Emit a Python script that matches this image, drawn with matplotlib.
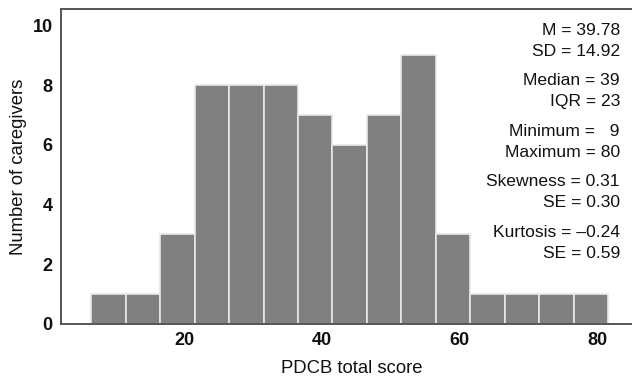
import matplotlib.pyplot as plt
import numpy as np

plt.rcParams["font.family"] = ["Liberation Sans", "DejaVu Sans"]

# histogram of PDCB total score, bin width 5
bin_edges = [6.5, 11.5, 16.5, 21.5, 26.5, 31.5, 36.5, 41.5, 46.5, 51.5,
             56.5, 61.5, 66.5, 71.5, 76.5, 81.5]
counts = [1, 1, 3, 8, 8, 8, 7, 6, 7, 9, 3, 1, 1, 1, 1]

stat_lines = [
    ("M = 39.78", "SD = 14.92"),
    ("Median = 39", "IQR = 23"),
    ("Minimum =   9", "Maximum = 80"),
    ("Skewness = 0.31", "SE = 0.30"),
    ("Kurtosis = \u20130.24", "SE = 0.59"),
]

fig = plt.figure(figsize=(6.32, 3.78), dpi=100)
ax = fig.add_axes([0.0965, 0.143, 0.92, 0.8325])

lefts = np.array(bin_edges[:-1])
widths = np.diff(bin_edges)
ax.bar(lefts, counts, width=widths, align="edge", color="#808080",
       edgecolor="#e8e8e8", linewidth=1.2)

ax.set_xlim(2.1, 86.5)
ax.set_ylim(0, 10.55)
ax.set_xticks([20, 40, 60, 80])
ax.set_yticks([0, 2, 4, 6, 8, 10])
ax.tick_params(length=0, labelsize=13, colors="#111111", pad=6)
for lbl in ax.get_xticklabels() + ax.get_yticklabels():
    lbl.set_fontweight("bold")

for side in ["left", "bottom", "top"]:
    ax.spines[side].set_color("#555555")
    ax.spines[side].set_linewidth(1.4)
ax.spines["right"].set_visible(False)

ax.set_xlabel("PDCB total score", fontsize=13.3, color="#111111", labelpad=8)
ax.set_ylabel("Number of caregivers", fontsize=13.3, color="#111111", labelpad=4)

# descriptive statistics block, right aligned
y = 0.9206
for a, b in stat_lines:
    fig.text(0.981, y, a, ha="right", va="center", fontsize=12.6, color="#111111")
    fig.text(0.981, y - 0.0556, b, ha="right", va="center", fontsize=12.6, color="#111111")
    y -= 0.1336

fig.savefig("out.png", dpi=100)
